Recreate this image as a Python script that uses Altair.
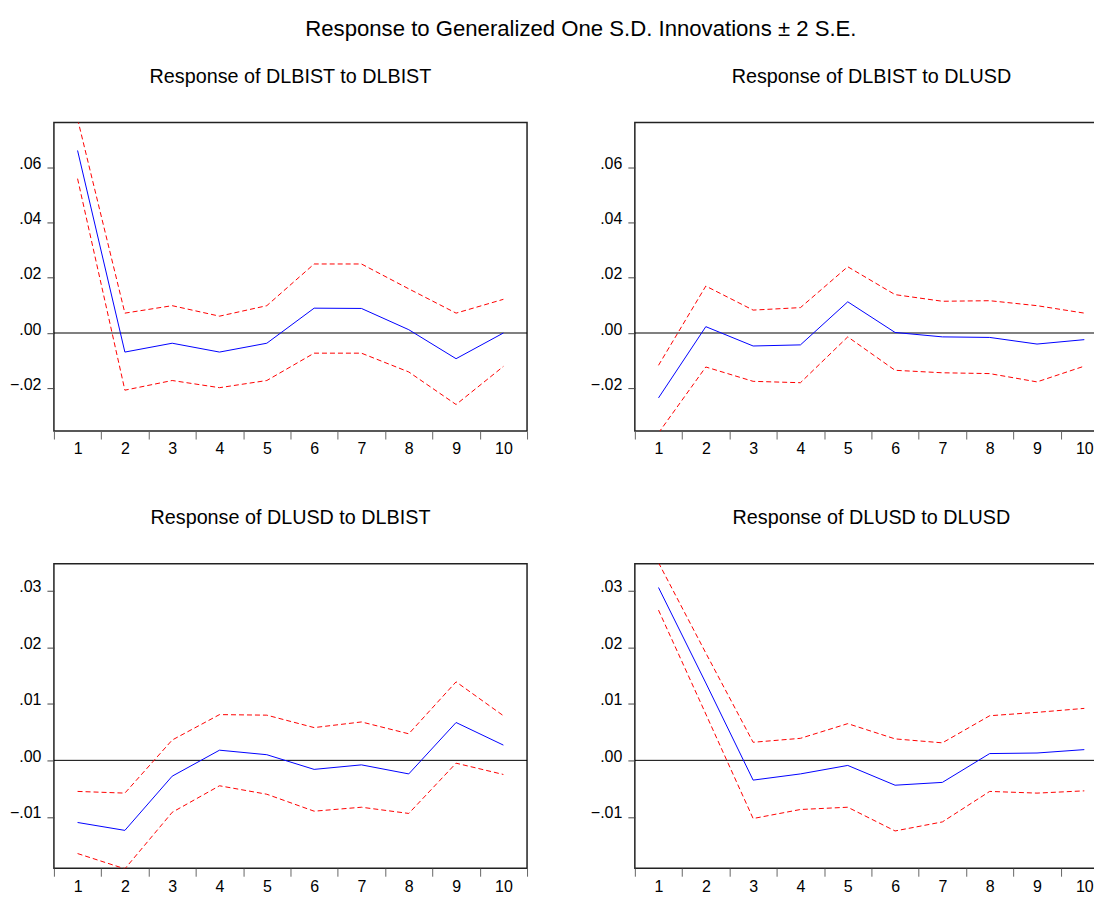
import altair as alt
import pandas as pd

steps = list(range(1, 11))

# Response of DLBIST to DLBIST
p1_resp = [0.0661, -0.0069, -0.0037, -0.0069, -0.0037, 0.0090, 0.0089, 0.0012, -0.0093, 0.0000]
p1_upper = [0.0775, 0.0072, 0.0099, 0.0061, 0.0099, 0.0250, 0.0250, 0.0160, 0.0072, 0.0122]
p1_lower = [0.0559, -0.0207, -0.0172, -0.0198, -0.0172, -0.0073, -0.0073, -0.0141, -0.0259, -0.0121]

# Response of DLBIST to DLUSD
p2_resp = [-0.0235, 0.0023, -0.0047, -0.0043, 0.0113, 0.0002, -0.0014, -0.0016, -0.0040, -0.0024]
p2_upper = [-0.0117, 0.0170, 0.0083, 0.0092, 0.0240, 0.0139, 0.0115, 0.0117, 0.0099, 0.0072]
p2_lower = [-0.0362, -0.0123, -0.0175, -0.0180, -0.0014, -0.0135, -0.0144, -0.0147, -0.0177, -0.0120]

# Response of DLUSD to DLBIST
p3_resp = [-0.0110, -0.0124, -0.0028, 0.0018, 0.0010, -0.0016, -0.0008, -0.0024, 0.0067, 0.0027]
p3_upper = [-0.0055, -0.0058, 0.0036, 0.0081, 0.0080, 0.0058, 0.0068, 0.0047, 0.0139, 0.0079]
p3_lower = [-0.0165, -0.0192, -0.0092, -0.0045, -0.0060, -0.0090, -0.0083, -0.0094, -0.0005, -0.0025]

# Response of DLUSD to DLUSD
p4_resp = [0.0306, 0.0137, -0.0035, -0.0024, -0.0009, -0.0044, -0.0039, 0.0012, 0.0013, 0.0019]
p4_upper = [0.0350, 0.0190, 0.0032, 0.0039, 0.0065, 0.0038, 0.0031, 0.0079, 0.0085, 0.0092]
p4_lower = [0.0266, 0.0082, -0.0103, -0.0087, -0.0083, -0.0125, -0.0109, -0.0055, -0.0058, -0.0054]

top_domain = [-0.0355, 0.0762]
top_ticks = [-0.02, 0.0, 0.02, 0.04, 0.06]
bottom_domain = [-0.0191, 0.0348]
bottom_ticks = [-0.01, 0.0, 0.01, 0.02, 0.03]

FONT = "Liberation Sans"
W = 474


def panel(title, resp, upper, lower, ydomain, yticks, h):
    df_resp = pd.DataFrame({"step": steps, "value": resp})
    df_band = pd.DataFrame({
        "step": steps * 2,
        "value": upper + lower,
        "band": ["upper"] * 10 + ["lower"] * 10,
    })
    x = alt.X(
        "step:O",
        bandPosition=0.5,
        scale=alt.Scale(type="band", paddingInner=0, paddingOuter=0),
        axis=alt.Axis(
            title=None, labelAngle=0, tickBand="extent", domain=False,
            tickSize=8, tickColor="#666", labelPadding=2,
            labelFont=FONT, labelFontSize=16, labelColor="black",
        ),
    )
    y = alt.Y(
        "value:Q",
        scale=alt.Scale(domain=ydomain, nice=False, zero=False),
        axis=alt.Axis(
            title=None, values=yticks, grid=False, domain=False,
            labelExpr="replace(format(datum.value, '.2f'), '0.', '.')",
            tickSize=7, tickColor="#444", labelPadding=6,
            labelBaseline="alphabetic", labelOffset=1, labelFont=FONT,
            labelFontSize=16, labelColor="black",
        ),
    )
    zero = alt.Chart(pd.DataFrame({"v": [0.0]})).mark_rule(
        color="black", strokeWidth=1
    ).encode(y=alt.Y("v:Q"))
    bands = alt.Chart(df_band).mark_line(
        color="#ff0000", strokeWidth=1, strokeDash=[5, 3], clip=True
    ).encode(x=x, y=y, detail="band:N")
    line = alt.Chart(df_resp).mark_line(
        color="#0000ff", strokeWidth=1, clip=True
    ).encode(x=x, y=y)
    return alt.layer(zero, bands, line).properties(
        width=W, height=h,
        title=alt.TitleParams(
            title, font=FONT, fontSize=19.8, fontWeight="normal",
            anchor="middle", offset=36, color="black",
        ),
    )


c1 = panel("Response of DLBIST to DLBIST", p1_resp, p1_upper, p1_lower, top_domain, top_ticks, 309)
c2 = panel("Response of DLBIST to DLUSD", p2_resp, p2_upper, p2_lower, top_domain, top_ticks, 309)
c3 = panel("Response of DLUSD to DLBIST", p3_resp, p3_upper, p3_lower, bottom_domain, bottom_ticks, 305)
c4 = panel("Response of DLUSD to DLUSD", p4_resp, p4_upper, p4_lower, bottom_domain, bottom_ticks, 305)

chart = alt.vconcat(
    alt.hconcat(c1, c2, spacing=60),
    alt.hconcat(c3, c4, spacing=60),
    spacing=49,
).properties(
    title=alt.TitleParams(
        "Response to Generalized One S.D. Innovations \u00b1 2 S.E.",
        font=FONT, fontSize=22.2, fontWeight="normal",
        anchor="middle", offset=26, dx=22, color="black",
    ),
    background="white",
    padding={"left": 0, "top": 9, "right": -16, "bottom": 0},
).configure_view(
    stroke="#222", strokeWidth=1.5
)

chart.save("out.html", embed_options={"renderer": "svg", "actions": False})
